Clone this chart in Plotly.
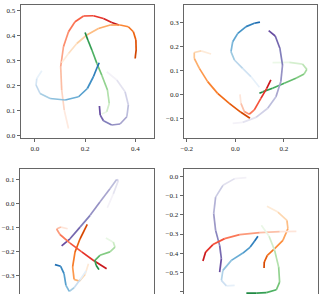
import plotly.graph_objects as go
from plotly.colors import sample_colorscale

W, H = 326, 294

# ---- data: trajectories (start -> end) ----
# Panel 1
p1_red_x = [0.134, 0.117, 0.107, 0.103, 0.114, 0.134, 0.160, 0.194, 0.233, 0.273, 0.306, 0.335]
p1_red_y = [0.029, 0.103, 0.183, 0.276, 0.356, 0.416, 0.456, 0.479, 0.480, 0.469, 0.453, 0.443]
p1_orange_x = [0.107, 0.134, 0.167, 0.207, 0.253, 0.300, 0.339, 0.372, 0.392, 0.402, 0.403, 0.399]
p1_orange_y = [0.292, 0.329, 0.369, 0.403, 0.429, 0.443, 0.443, 0.436, 0.416, 0.383, 0.343, 0.309]
p1_green_x = [0.266, 0.286, 0.296, 0.289, 0.266, 0.247, 0.227, 0.211, 0.200]
p1_green_y = [0.087, 0.096, 0.129, 0.183, 0.243, 0.289, 0.343, 0.383, 0.413]
p1_blue_x = [0.028, 0.008, 0.005, 0.021, 0.061, 0.121, 0.174, 0.209, 0.233, 0.249, 0.256]
p1_blue_y = [0.260, 0.229, 0.203, 0.169, 0.149, 0.143, 0.156, 0.189, 0.236, 0.276, 0.292]
p1_purple_x = [0.286, 0.326, 0.359, 0.372, 0.366, 0.339, 0.306, 0.273, 0.260, 0.257]
p1_purple_y = [0.256, 0.223, 0.176, 0.123, 0.076, 0.047, 0.043, 0.060, 0.083, 0.119]

# Panel 2
p2_blue_x = [0.099, 0.064, 0.030, -0.004, -0.018, -0.011, 0.010, 0.044, 0.078, 0.101]
p2_blue_y = [0.029, 0.074, 0.108, 0.143, 0.178, 0.219, 0.254, 0.282, 0.296, 0.301]
p2_orange_x = [-0.100, -0.141, -0.169, -0.169, -0.148, -0.114, -0.073, -0.025, 0.023, 0.060]
p2_orange_y = [0.168, 0.181, 0.174, 0.150, 0.108, 0.053, 0.004, -0.038, -0.075, -0.100]
p2_green_x = [0.153, 0.222, 0.276, 0.294, 0.283, 0.249, 0.201, 0.153, 0.112, 0.099]
p2_green_y = [0.132, 0.133, 0.126, 0.104, 0.085, 0.067, 0.046, 0.025, 0.010, 0.004]
p2_red_x = [0.019, 0.023, 0.037, 0.057, 0.078, 0.105, 0.129, 0.146]
p2_red_y = [0.000, -0.038, -0.072, -0.083, -0.065, -0.017, 0.025, 0.060]
p2_purple_x = [-0.011, 0.030, 0.085, 0.133, 0.167, 0.187, 0.194, 0.183, 0.164, 0.137]
p2_purple_y = [-0.121, -0.117, -0.096, -0.058, -0.010, 0.053, 0.122, 0.192, 0.243, 0.265]

# Panel 3
p3_purple_x = [0.170, 0.195, 0.216, 0.209, 0.181, 0.139, 0.098, 0.056, 0.014, -0.021]
p3_purple_y = [-0.017, 0.041, 0.097, 0.101, 0.062, 0.007, -0.049, -0.098, -0.147, -0.177]
p3_orange_x = [0.091, 0.077, 0.053, 0.031, 0.025, 0.035, 0.056, 0.086]
p3_orange_y = [-0.251, -0.296, -0.324, -0.317, -0.265, -0.202, -0.147, -0.087]
p3_red_x = [0.004, -0.024, -0.042, -0.028, 0.014, 0.063, 0.111, 0.167]
p3_red_y = [-0.105, -0.098, -0.106, -0.129, -0.165, -0.202, -0.237, -0.272]
p3_green_x = [0.164, 0.195, 0.202, 0.181, 0.139, 0.118, 0.123, 0.135]
p3_green_y = [-0.144, -0.161, -0.182, -0.202, -0.216, -0.237, -0.258, -0.276]
p3_blue_x = [0.081, 0.056, 0.031, 0.011, -0.003, -0.011, -0.025, -0.049]
p3_blue_y = [-0.282, -0.318, -0.352, -0.367, -0.342, -0.293, -0.262, -0.255]

# Panel 4
p4_purple_x = [0.087, 0.026, -0.035, -0.073, -0.083, -0.073, -0.052, -0.043, -0.052]
p4_purple_y = [-0.007, -0.012, -0.047, -0.108, -0.194, -0.281, -0.359, -0.428, -0.498]
p4_orange_x = [0.194, 0.251, 0.298, 0.303, 0.277, 0.234, 0.196, 0.180, 0.179]
p4_orange_y = [-0.156, -0.186, -0.229, -0.272, -0.333, -0.376, -0.411, -0.446, -0.477]
p4_red_x = [0.347, 0.260, 0.156, 0.052, -0.026, -0.087, -0.125, -0.139]
p4_red_y = [-0.286, -0.288, -0.293, -0.303, -0.324, -0.355, -0.394, -0.440]
p4_blue_x = [0.026, -0.017, -0.043, -0.035, 0.009, 0.069, 0.107, 0.130, 0.147]
p4_blue_y = [-0.567, -0.570, -0.541, -0.489, -0.437, -0.399, -0.368, -0.336, -0.312]
p4_green_x = [0.165, 0.205, 0.234, 0.255, 0.260, 0.243, 0.191, 0.139, 0.087]
p4_green_y = [-0.255, -0.312, -0.385, -0.472, -0.550, -0.590, -0.605, -0.607, -0.607]

panels = [
    [("Reds", p1_red_x, p1_red_y), ("Oranges", p1_orange_x, p1_orange_y),
     ("Greens", p1_green_x, p1_green_y), ("Blues", p1_blue_x, p1_blue_y),
     ("Purples", p1_purple_x, p1_purple_y)],
    [("Blues", p2_blue_x, p2_blue_y), ("Oranges", p2_orange_x, p2_orange_y),
     ("Greens", p2_green_x, p2_green_y), ("Reds", p2_red_x, p2_red_y),
     ("Purples", p2_purple_x, p2_purple_y)],
    [("Purples", p3_purple_x, p3_purple_y), ("Oranges", p3_orange_x, p3_orange_y),
     ("Reds", p3_red_x, p3_red_y), ("Greens", p3_green_x, p3_green_y),
     ("Blues", p3_blue_x, p3_blue_y)],
    [("Purples", p4_purple_x, p4_purple_y), ("Oranges", p4_orange_x, p4_orange_y),
     ("Reds", p4_red_x, p4_red_y), ("Blues", p4_blue_x, p4_blue_y),
     ("Greens", p4_green_x, p4_green_y)],
]

# tick values
p1_xticks = [0.0, 0.2, 0.4]
p1_yticks = [0.0, 0.1, 0.2, 0.3, 0.4, 0.5]
p2_xticks = [-0.2, 0.0, 0.2]
p2_yticks = [-0.1, 0.0, 0.1, 0.2, 0.3]
p3_yticks = [0.1, 0.0, -0.1, -0.2, -0.3]
p4_yticks = [0.0, -0.1, -0.2, -0.3, -0.4, -0.5, -0.6]

# ---- layout (pixel boxes: left, right, top, bottom) ----
boxes = [(20.7, 154, 5, 138), (184.3, 317.3, 5, 138),
         (20, 154, 169, 294), (183.7, 317.7, 169, 294)]
xranges = [[-0.056, 0.474], [-0.21, 0.337], [-0.195, 0.365], [-0.239, 0.458]]
yranges = [[-0.009, 0.523], [-0.182, 0.372], [-0.378, 0.145], [-0.612, 0.038]]
xticks = [p1_xticks, p2_xticks, None, None]
yticks = [p1_yticks, p2_yticks, p3_yticks, p4_yticks]

fig = go.Figure()
T0, T1 = 0.0, 0.8
for k, curves in enumerate(panels):
    xa = "x" if k == 0 else f"x{k+1}"
    ya = "y" if k == 0 else f"y{k+1}"
    for cmap, xs, ys in curves:
        n = len(xs) - 1
        for i in range(n):
            t = T0 + (T1 - T0) * ((i + 0.5) / n) ** 0.8
            col = sample_colorscale(cmap, [t])[0]
            fig.add_trace(go.Scatter(
                x=xs[i:i + 2], y=ys[i:i + 2], mode="lines",
                line=dict(color=col, width=1.7), xaxis=xa, yaxis=ya,
                showlegend=False, hoverinfo="skip"))

font = dict(family="Liberation Serif, DejaVu Serif, serif", size=7, color="#222")
axcol = "#666666"
layout = dict(width=W, height=H, margin=dict(l=0, r=0, t=0, b=0, autoexpand=False),
              paper_bgcolor="white", plot_bgcolor="white", font=font,
              showlegend=False)
for k in range(4):
    l, r, t, b = boxes[k]
    sx = "xaxis" if k == 0 else f"xaxis{k+1}"
    sy = "yaxis" if k == 0 else f"yaxis{k+1}"
    anchor_x = "y" if k == 0 else f"y{k+1}"
    anchor_y = "x" if k == 0 else f"x{k+1}"
    xa = dict(domain=[l / W, r / W], range=xranges[k], anchor=anchor_x,
              showgrid=False, zeroline=False, showline=True, linecolor=axcol,
              linewidth=1.3, automargin=False)
    if xticks[k] is not None:
        xa.update(mirror=True, ticks="outside", ticklen=3, tickcolor=axcol,
                  tickwidth=1, tickvals=xticks[k], tickformat=".1f")
    else:
        xa.update(side="top", mirror=False, ticks="", showticklabels=False)
    ya = dict(domain=[1 - b / H, 1 - t / H], range=yranges[k], anchor=anchor_y,
              showgrid=False, zeroline=False, showline=True, linecolor=axcol,
              linewidth=1.3, mirror=True, ticks="outside", ticklen=3,
              tickcolor=axcol, tickwidth=1, tickvals=yticks[k], tickformat=".1f",
              automargin=False)
    layout[sx] = xa
    layout[sy] = ya

fig.update_layout(**layout)
fig.write_html("out.html", config={"displayModeBar": False},
               post_script="document.body.style.margin='0';document.body.style.overflow='hidden';")
